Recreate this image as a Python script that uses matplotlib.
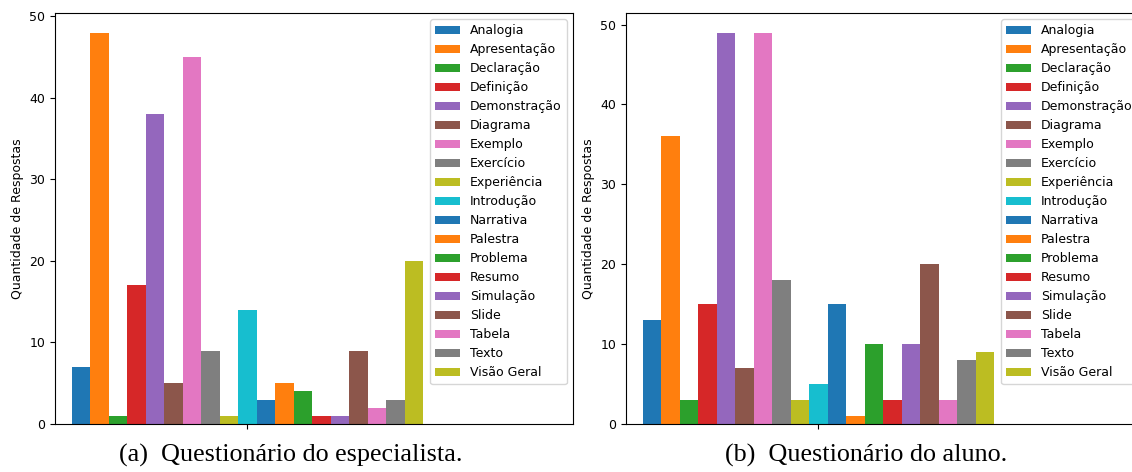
import matplotlib
matplotlib.use("Agg")
import matplotlib.pyplot as plt
import numpy as np

categories = ["Analogia", "Apresentação", "Declaração", "Definição", "Demonstração",
              "Diagrama", "Exemplo", "Exercício", "Experiência", "Introdução",
              "Narrativa", "Palestra", "Problema", "Resumo", "Simulação",
              "Slide", "Tabela", "Texto", "Visão Geral"]
especialista = [7, 48, 1, 17, 38, 5, 45, 9, 1, 14, 3, 5, 4, 1, 1, 9, 2, 3, 20]
aluno = [13, 36, 3, 15, 49, 7, 49, 18, 3, 5, 15, 1, 10, 3, 10, 20, 3, 8, 9]
captions = ["(a)  Questionário do especialista.", "(b)  Questionário do aluno."]
ylabel = "Quantidade de Respostas"

W, H = 1132, 472
fig = plt.figure(figsize=(W / 100, H / 100), dpi=100)

colors = plt.rcParams['axes.prop_cycle'].by_key()['color']


def add_panel(left_px, values):
    ax = fig.add_axes([left_px / W, (H - 424) / H, 518 / W, 411 / H])
    n = len(values)
    pos = np.arange(n) - (n - 1) / 2
    for i, (c, v) in enumerate(zip(categories, values)):
        ax.bar(pos[i], v, width=1.0, color=colors[i % len(colors)], label=c,
               linewidth=0)
    ax.set_xlim(-10.42, 17.62)
    ax.set_xticks([0])
    ax.set_xticklabels([""])
    ax.set_yticks([0, 10, 20, 30, 40, 50])
    ax.tick_params(labelsize=9)
    ax.set_ylabel(ylabel, fontsize=9)
    ax.legend(loc="upper right", fontsize=9, labelspacing=0.48)
    return ax


ax1 = add_panel(55, especialista)
ax2 = add_panel(626, aluno)

fig.text(291 / W, 1 - 462 / H, captions[0], family="Liberation Serif",
         fontsize=18.8, ha="center", va="baseline")
fig.text(866 / W, 1 - 462 / H, captions[1], family="Liberation Serif",
         fontsize=18.8, ha="center", va="baseline")

fig.savefig("out.png", dpi=100)
